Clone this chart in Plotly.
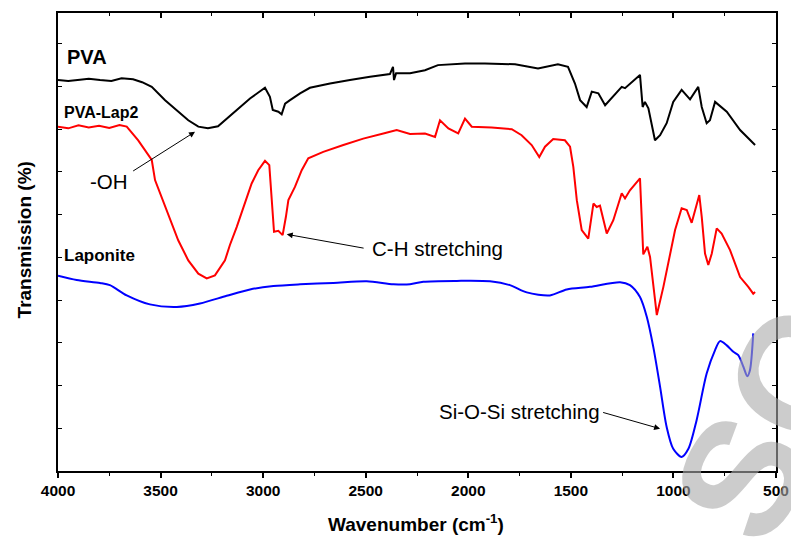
import plotly.graph_objects as go

# ---------------- data (wavenumber cm^-1, transmission a.u.) ----------------
pva_wn = [4000, 3950, 3893, 3850, 3795, 3740, 3690, 3634, 3590, 3543, 3478, 3415, 3365, 3316, 3269, 3220,
          3137, 3113, 3064, 2991, 2967, 2953, 2926, 2910, 2893, 2869, 2820, 2772, 2674, 2577, 2479, 2382,
          2367, 2362, 2352, 2284, 2211, 2148, 2016, 1919, 1772, 1660, 1563, 1514, 1480, 1455, 1423, 1398,
          1366, 1333, 1293, 1252, 1236, 1203, 1163, 1150, 1139, 1122, 1090, 1065, 1033, 1001, 960, 919,
          879, 862, 838, 822, 797, 740, 675, 602]
pva_t = [91.5, 91.3, 91.6, 91.8, 91.5, 91.3, 91.9, 91.7, 91.0, 89.9, 86.8, 84.1, 82.1, 80.6, 80.2, 80.7,
         84.1, 85.2, 87.2, 89.7, 87.6, 84.5, 84.1, 83.5, 86.0, 86.8, 88.4, 89.7, 90.7, 91.5, 92.3, 92.9,
         94.6, 91.5, 93.1, 93.1, 93.8, 95.0, 95.4, 95.4, 95.2, 94.2, 95.2, 94.6, 90.7, 86.8, 85.2, 88.8,
         88.4, 85.6, 87.6, 89.9, 89.6, 91.1, 92.7, 85.2, 86.4, 84.9, 77.4, 78.6, 81.4, 86.4, 89.2, 87.0,
         89.9, 85.2, 81.4, 82.1, 86.4, 84.1, 79.8, 76.3]

lap2_wn = [4000, 3950, 3900, 3850, 3800, 3750, 3700, 3665, 3609, 3543, 3527, 3478, 3414, 3365, 3316, 3275,
           3235, 3186, 3162, 3129, 3097, 3056, 3024, 2991, 2970, 2958, 2947, 2926, 2905, 2889, 2877, 2845,
           2812, 2780, 2707, 2609, 2512, 2414, 2349, 2284, 2211, 2162, 2138, 2097, 2049, 2016, 1983, 1886,
           1788, 1740, 1691, 1654, 1626, 1586, 1529, 1504, 1488, 1471, 1447, 1415, 1390, 1374, 1358, 1325,
           1293, 1252, 1236, 1212, 1163, 1147, 1127, 1114, 1081, 1049, 1017, 992, 960, 935, 911, 895,
           874, 862, 846, 830, 813, 789, 765, 724, 675, 635, 611, 602]
lap2_t = [80.6, 80.2, 80.9, 80.4, 80.8, 80.3, 81.0, 80.6, 77.4, 72.8, 68.1, 61.8, 54.0, 49.3, 46.2, 45.1,
          45.8, 49.3, 52.9, 57.1, 61.8, 67.3, 70.4, 72.6, 71.6, 64.2, 56.0, 56.2, 55.2, 59.5, 63.4, 66.5,
          70.4, 73.2, 74.7, 76.3, 77.8, 79.0, 79.8, 78.9, 79.0, 78.2, 82.1, 80.2, 79.0, 82.5, 80.6, 80.4,
          80.0, 78.6, 76.3, 73.5, 75.9, 77.7, 77.4, 75.9, 71.2, 63.4, 56.4, 54.4, 62.6, 61.8, 62.1, 55.6,
          58.7, 65.0, 63.8, 65.7, 68.5, 50.7, 52.5, 50.1, 36.5, 43.1, 50.9, 56.4, 61.5, 61.1, 58.1, 61.1,
          64.6, 59.5, 50.9, 48.2, 50.9, 56.8, 55.6, 51.7, 45.4, 43.1, 41.5, 41.9]

lapo_wn = [4000, 3909, 3795, 3747, 3665, 3552, 3421, 3308, 3178, 3064, 2950, 2820, 2658, 2495, 2365, 2284,
           2219, 2056, 1894, 1797, 1715, 1602, 1520, 1407, 1260, 1212, 1163, 1130, 1098, 1065, 1033, 1001,
           960, 927, 887, 838, 797, 773, 740, 708, 684, 659, 640, 627, 611]
lapo_t = [45.7, 44.7, 44.0, 43.5, 41.1, 39.0, 38.4, 39.2, 41.0, 42.5, 43.3, 43.7, 44.0, 44.4, 43.7, 43.7,
          44.3, 44.5, 44.4, 43.5, 41.8, 41.1, 42.5, 43.1, 44.2, 43.5, 40.7, 36.1, 29.0, 19.7, 10.3, 5.2,
          3.3, 5.2, 11.9, 22.8, 28.3, 30.4, 29.4, 27.9, 27.1, 24.4, 22.2, 23.6, 32.2]

x_ticks = [4000, 3500, 3000, 2500, 2000, 1500, 1000, 500]
x_range = [4000, 500]
y_range = [0, 107.2]

FONT = "Arial, Liberation Sans, sans-serif"

fig = go.Figure()
fig.add_trace(go.Scatter(x=pva_wn, y=pva_t, mode="lines", line=dict(color="black", width=2), name="PVA"))
fig.add_trace(go.Scatter(x=lap2_wn, y=lap2_t, mode="lines", line=dict(color="#ff0000", width=2), name="PVA-Lap2"))
fig.add_trace(go.Scatter(x=lapo_wn, y=lapo_t, mode="lines", line=dict(color="#0000ff", width=2, shape="spline", smoothing=0.8), name="Laponite"))
fig.add_trace(go.Scatter(x=[x_ticks[0]], y=[None], xaxis="x2", showlegend=False, hoverinfo="skip"))

fig.update_layout(
    width=791, height=537,
    margin=dict(l=58, r=15, t=13, b=66, autoexpand=False),
    plot_bgcolor="white", paper_bgcolor="white",
    showlegend=False,
    font=dict(family=FONT, color="black"),
    xaxis=dict(range=x_range, tickvals=x_ticks, ticks="outside", ticklen=5, tickwidth=1.5,
               tickcolor="black", showline=True, linewidth=1.5, linecolor="black",
               showgrid=False, zeroline=False, automargin=False,
               tickfont=dict(size=15.5, weight="bold", family=FONT),
               minor=dict(dtick=250, tick0=500, ticks="outside", ticklen=3, tickwidth=1.2, tickcolor="black")),
    xaxis2=dict(range=x_range, overlaying="x", side="top", tickvals=x_ticks, ticks="inside", ticklen=5,
                tickwidth=1.5, tickcolor="black", showline=True, linewidth=1.5, linecolor="black",
                showgrid=False, zeroline=False, showticklabels=False, automargin=False,
                minor=dict(dtick=250, tick0=500, ticks="inside", ticklen=3, tickwidth=1.2, tickcolor="black")),
    yaxis=dict(range=y_range, tick0=0, dtick=10, ticks="inside", ticklen=4, tickwidth=1.2,
               tickcolor="black", showline=True, linewidth=1.5, linecolor="black", mirror="ticks",
               showticklabels=False, showgrid=False, zeroline=False, automargin=False),
)

ann = []
# axis titles
ann.append(dict(xref="paper", yref="paper", x=0.4986, y=-0.114, text="<b>Wavenumber (cm<sup>-1</sup>)</b>",
                showarrow=False, font=dict(size=19), xanchor="center", yanchor="middle"))
ann.append(dict(xref="paper", yref="paper", x=-0.047, y=0.504, text="<b>Transmission (%)</b>",
                showarrow=False, font=dict(size=19), textangle=-90, xanchor="center", yanchor="middle"))
# series labels
ann.append(dict(x=3966, y=97.0, text="<b>PVA</b>", showarrow=False, font=dict(size=20), xanchor="left", yanchor="middle"))
ann.append(dict(x=3979, y=83.8, text="<b>PVA-Lap2</b>", showarrow=False, font=dict(size=16), xanchor="left", yanchor="middle"))
ann.append(dict(x=3980, y=50.4, text="<b>Laponite</b>", showarrow=False, font=dict(size=17), xanchor="left", yanchor="middle"))
# band labels
ann.append(dict(x=3852, y=67.8, text="-OH", showarrow=False, font=dict(size=20.5), xanchor="left", yanchor="middle"))
ann.append(dict(x=2479, y=52.0, text="C-H stretching", showarrow=False, font=dict(size=20.5), xanchor="left", yanchor="middle"))
ann.append(dict(x=2154, y=14.0, text="Si-O-Si stretching", showarrow=False, font=dict(size=20.5), xanchor="left", yanchor="middle"))
# arrows
for (hx, hy, tx, ty) in [(3332, 79.4, 3641, 70.0), (2885, 55.4, 2503, 52.1), (1065, 9.9, 1350, 13.8)]:
    ann.append(dict(x=hx, y=hy, ax=tx, ay=ty, axref="x", ayref="y", text="", showarrow=True,
                    arrowhead=2, arrowsize=1.2, arrowwidth=1, arrowcolor="black"))
# watermark
ann.append(dict(xref="paper", yref="paper", x=0.992, y=0.10, text="<b>SC</b>", showarrow=False,
                font=dict(size=165, color="rgba(170,170,170,0.6)"), textangle=-62,
                xanchor="center", yanchor="middle"))
fig.update_layout(annotations=ann)

fig.write_html("out.html")
